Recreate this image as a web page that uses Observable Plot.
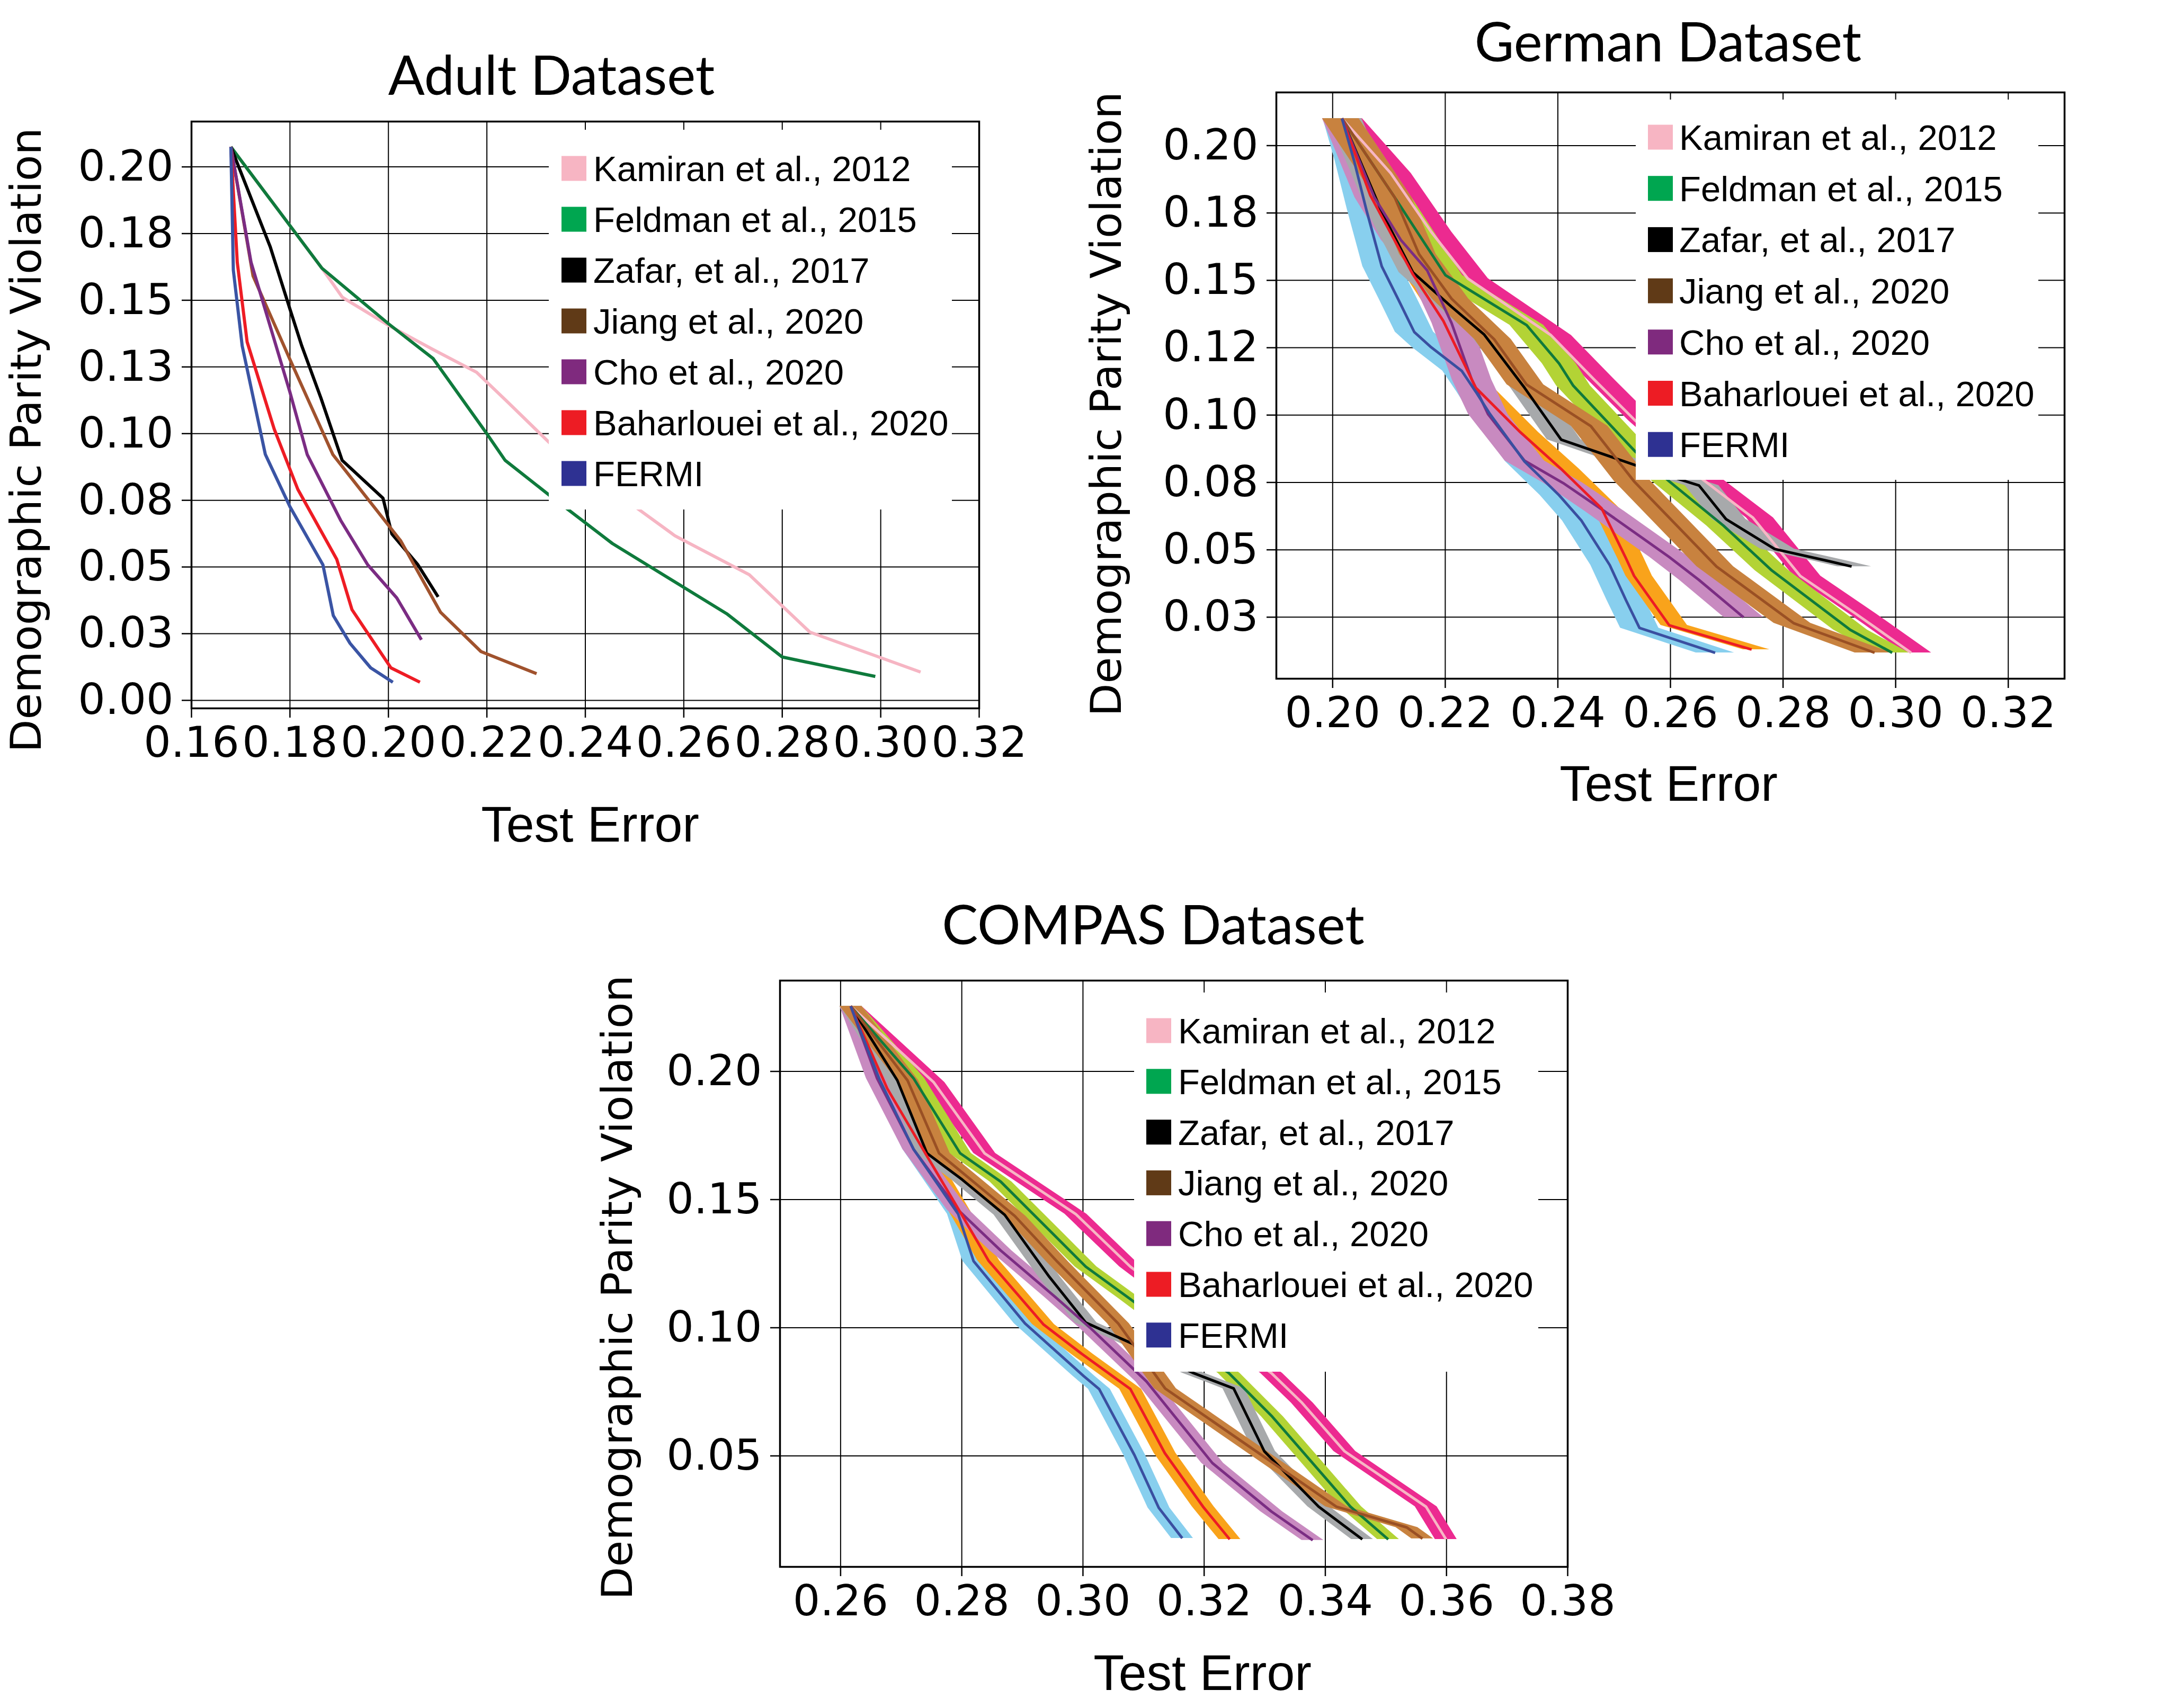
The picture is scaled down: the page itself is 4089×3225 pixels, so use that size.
<!DOCTYPE html>
<html>
<head>
<meta charset="utf-8">
<script src="https://cdn.jsdelivr.net/npm/d3@7"></script>
<script src="https://cdn.jsdelivr.net/npm/@observablehq/plot@0.6"></script>
<style>
  html, body { margin: 0; padding: 0; background: #fff; }
  #fig { position: relative; width: 4089px; height: 3225px; overflow: hidden; background: #fff; }
  .panel { position: absolute; }
  #overlay { position: absolute; left: 0; top: 0; pointer-events: none; }
</style>
</head>
<body>
<div id="fig"></div>
<script>
// ---------------- names / colours ----------------
const methods = ["Kamiran et al., 2012", "Feldman et al., 2015", "Zafar, et al., 2017", "Jiang et al., 2020", "Cho et al., 2020", "Baharlouei et al., 2020", "FERMI"];
const swatchColors = ["#f7b5c3", "#00a650", "#000000", "#603a17", "#7f2a7e", "#ed1c24", "#2e3192"];
const adultLineColors = ["#f6b5c3", "#0f7a3c", "#000000", "#a0522d", "#7b2c83", "#ee1c24", "#3a54a4"];
const lineColors = ["#f7b6c4", "#107a3c", "#000000", "#9a5024", "#7b2d83", "#ed1c24", "#3a4fa0"];
const bandColors = ["#ec2a90", "#b3d335", "#a7a9ab", "#c8823f", "#c88ac0", "#f9a31b", "#88cfee"];

// ---------------- Adult dataset ----------------
const adultXTicks = [0.16, 0.18, 0.20, 0.22, 0.24, 0.26, 0.28, 0.30, 0.32];
const adultXLabels = ["0.16", "0.18", "0.20", "0.22", "0.24", "0.26", "0.28", "0.30", "0.32"];
const adultYTicks = [0, 0.025, 0.05, 0.075, 0.1, 0.125, 0.15, 0.175, 0.2];
const adultYLabels = ["0.00", "0.03", "0.05", "0.08", "0.10", "0.13", "0.15", "0.18", "0.20"];

const adultKamiranX = [0.1680, 0.1865, 0.19065, 0.2000, 0.2088, 0.2179, 0.2238, 0.2327, 0.2507, 0.2582, 0.2733, 0.2856, 0.3081];
const adultKamiranY = [0.2075, 0.1620, 0.1511, 0.1406, 0.1318, 0.1230, 0.1126, 0.0966, 0.0718, 0.0617, 0.0471, 0.0256, 0.0106];
const adultFeldmanX = [0.1680, 0.1865, 0.2000, 0.2091, 0.2199, 0.2237, 0.2327, 0.2455, 0.2687, 0.2800, 0.2989];
const adultFeldmanY = [0.2075, 0.1620, 0.1412, 0.1281, 0.1002, 0.0900, 0.0769, 0.0588, 0.0325, 0.01625, 0.00896];
const adultZafarX = [0.1680, 0.1760, 0.1800, 0.1824, 0.1863, 0.1906, 0.1989, 0.2007, 0.2060, 0.2101];
const adultZafarY = [0.2075, 0.1700, 0.1467, 0.1329, 0.1133, 0.0900, 0.0758, 0.0624, 0.0508, 0.0388];
const adultJiangX = [0.1680, 0.1725, 0.1800, 0.1887, 0.2025, 0.2106, 0.2188, 0.2301];
const adultJiangY = [0.2075, 0.1591, 0.1278, 0.0922, 0.0598, 0.0330, 0.0183, 0.0100];
const adultChoX = [0.1680, 0.1721, 0.1800, 0.1835, 0.1903, 0.1958, 0.2017, 0.2067];
const adultChoY = [0.2075, 0.1642, 0.1155, 0.0922, 0.0675, 0.0508, 0.0384, 0.0227];
const adultBaharloueiX = [0.1680, 0.1693, 0.1713, 0.1768, 0.1816, 0.1895, 0.1926, 0.2005, 0.2064];
const adultBaharloueiY = [0.2075, 0.1642, 0.1344, 0.1017, 0.0791, 0.0529, 0.0340, 0.0122, 0.0068];
const adultFermiX = [0.1680, 0.1685, 0.1703, 0.1750, 0.1800, 0.1867, 0.1888, 0.1922, 0.1964, 0.2009];
const adultFermiY = [0.2075, 0.1613, 0.1329, 0.0922, 0.0726, 0.0508, 0.0318, 0.0214, 0.0122, 0.0068];

// ---------------- German dataset ----------------
const germanXTicks = [0.20, 0.22, 0.24, 0.26, 0.28, 0.30, 0.32];
const germanXLabels = ["0.20", "0.22", "0.24", "0.26", "0.28", "0.30", "0.32"];
const germanYTicks = [0.025, 0.05, 0.075, 0.1, 0.125, 0.15, 0.175, 0.2];
const germanYLabels = ["0.03", "0.05", "0.08", "0.10", "0.12", "0.15", "0.18", "0.20"];

const germanKamiranX = [0.20166, 0.21031, 0.21751, 0.22400, 0.23877, 0.24634, 0.25378, 0.26554, 0.27466, 0.28306, 0.2929, 0.30274];
const germanKamiranY = [0.21007, 0.18978, 0.16798, 0.15069, 0.12965, 0.1134, 0.0979, 0.0764, 0.0619, 0.0403, 0.0263, 0.0118];
const germanFeldmanX = [0.20166, 0.21103, 0.22004, 0.23445, 0.24022, 0.24274, 0.25378, 0.25978, 0.26940, 0.27802, 0.29194, 0.29938];
const germanFeldmanY = [0.21007, 0.18076, 0.15189, 0.13340, 0.11912, 0.1109, 0.0864, 0.0754, 0.05899, 0.0423, 0.0203, 0.0118];
const germanZafarX = [0.20166, 0.20274, 0.20886, 0.21427, 0.22112, 0.22688, 0.23409, 0.24058, 0.25378, 0.26122, 0.26506, 0.26986, 0.2785, 0.2881, 0.29218];
const germanZafarY = [0.21007, 0.20481, 0.17475, 0.15295, 0.14017, 0.12995, 0.11010, 0.0909, 0.0814, 0.0764, 0.0739, 0.0614, 0.0503, 0.0458, 0.0438];
const germanJiangX = [0.20166, 0.21103, 0.21535, 0.22112, 0.22868, 0.23445, 0.24586, 0.25354, 0.25978, 0.26818, 0.28186, 0.29626];
const germanJiangY = [0.21007, 0.18076, 0.15971, 0.14318, 0.12814, 0.11131, 0.0959, 0.0754, 0.0619, 0.0438, 0.0228, 0.0118];
const germanChoX = [0.20166, 0.20742, 0.21211, 0.21679, 0.22112, 0.22472, 0.22760, 0.23409, 0.24094, 0.24826, 0.25978, 0.26506, 0.27298];
const germanChoY = [0.21007, 0.18076, 0.16497, 0.15370, 0.13415, 0.11311, 0.10033, 0.08304, 0.07478, 0.06436, 0.04734, 0.03882, 0.02496];
const germanBaharloueiX = [0.20166, 0.20670, 0.21427, 0.21967, 0.22544, 0.23337, 0.24057, 0.24778, 0.2521, 0.25354, 0.25978, 0.27442];
const germanBaharloueiY = [0.21007, 0.18151, 0.15219, 0.13491, 0.11010, 0.09357, 0.08004, 0.06536, 0.04683, 0.04033, 0.0220, 0.0130];
const germanFermiX = [0.20166, 0.20382, 0.20598, 0.20872, 0.21160, 0.21449, 0.21751, 0.22292, 0.22544, 0.22796, 0.23409, 0.24022, 0.24418, 0.24922, 0.2521, 0.2545, 0.26794];
const germanFermiY = [0.21007, 0.19429, 0.17625, 0.15520, 0.14318, 0.13085, 0.12514, 0.11642, 0.10860, 0.10033, 0.08274, 0.07027, 0.06086, 0.04433, 0.0313, 0.0210, 0.01178];
// band half-widths (left, right) in test-error units
const germanBandLo = [0.0012, 0.0030, 0.0025, 0.0035, 0.0035, 0.0015, 0.0034];
const germanBandHi = [0.0036, 0.0030, 0.0035, 0.0030, 0.0035, 0.0032, 0.0034];

// ---------------- COMPAS dataset ----------------
const compasXTicks = [0.26, 0.28, 0.30, 0.32, 0.34, 0.36, 0.38];
const compasXLabels = ["0.26", "0.28", "0.30", "0.32", "0.34", "0.36", "0.38"];
const compasYTicks = [0.05, 0.1, 0.15, 0.2];
const compasYLabels = ["0.05", "0.10", "0.15", "0.20"];

const compasKamiranX = [0.26167, 0.27538, 0.28375, 0.29880, 0.30783, 0.3311, 0.33616, 0.34318, 0.35661, 0.35992];
const compasKamiranY = [0.22545, 0.19573, 0.16807, 0.14436, 0.12380, 0.0823, 0.0707, 0.0518, 0.0302, 0.01745];
const compasFeldmanX = [0.26167, 0.27204, 0.27973, 0.28642, 0.29512, 0.30047, 0.30783, 0.32409, 0.33124, 0.34415, 0.35038];
const compasFeldmanY = [0.22545, 0.19731, 0.16807, 0.15700, 0.13645, 0.12380, 0.11116, 0.0823, 0.06532, 0.0302, 0.01745];
const compasZafarX = [0.26167, 0.26936, 0.27425, 0.28007, 0.28709, 0.29445, 0.30047, 0.30816, 0.31825, 0.32487, 0.32993, 0.33889, 0.3461];
const compasZafarY = [0.22545, 0.19652, 0.16807, 0.15779, 0.14404, 0.11985, 0.10199, 0.09377, 0.0823, 0.0763, 0.0518, 0.0302, 0.01745];
const compasJiangX = [0.26167, 0.27104, 0.27625, 0.28876, 0.29579, 0.30582, 0.31357, 0.34181, 0.35344, 0.35603];
const compasJiangY = [0.22545, 0.19652, 0.16807, 0.14357, 0.12570, 0.10167, 0.0763, 0.0302, 0.0221, 0.0177];
const compasChoX = [0.26167, 0.26602, 0.27204, 0.27940, 0.28642, 0.29545, 0.30114, 0.31050, 0.32136, 0.3311, 0.33792];
const compasChoY = [0.22545, 0.19731, 0.16965, 0.14594, 0.13013, 0.11195, 0.10009, 0.0790, 0.0472, 0.0283, 0.0171];
const compasBaharloueiX = [0.26167, 0.26769, 0.27438, 0.27973, 0.28441, 0.29345, 0.29980, 0.30783, 0.31351, 0.31981, 0.32422];
const compasBaharloueiY = [0.22545, 0.19336, 0.16649, 0.14515, 0.12618, 0.10136, 0.08982, 0.07607, 0.05109, 0.0302, 0.01745];
const compasFermiX = [0.26167, 0.26649, 0.27204, 0.27940, 0.28194, 0.29044, 0.30013, 0.30268, 0.30850, 0.31251, 0.31639];
const compasFermiY = [0.22545, 0.19652, 0.16965, 0.14436, 0.12602, 0.10167, 0.08112, 0.07606, 0.05030, 0.02975, 0.01789];
const compasBandLo = [0.0018, 0.0018, 0.0018, 0.0018, 0.0018, 0.0018, 0.0018];
const compasBandHi = [0.0018, 0.0018, 0.0018, 0.0018, 0.0018, 0.0018, 0.0018];

// ---------------- helpers ----------------
const toRows = (xs, ys) => xs.map((x, i) => ({x, y: ys[i]}));
const bandOrder = [6, 5, 4, 0, 1, 2, 3];
const lineOrder = [0, 1, 2, 3, 4, 5, 6];

function panel(cfg) {
  const xMap = new Map(cfg.xTicks.map((t, i) => [t, cfg.xLabels[i]]));
  const yMap = new Map(cfg.yTicks.map((t, i) => [t, cfg.yLabels[i]]));
  const marks = [
    Plot.ruleX(cfg.xTicks.filter(t => t >= cfg.xDomain[0] && t <= cfg.xDomain[1]), {stroke: "#000", strokeWidth: 2}),
    Plot.ruleY(cfg.yTicks, {stroke: "#000", strokeWidth: 2})
  ];
  if (cfg.bandLo) {
    for (const i of bandOrder) {
      const lo = cfg.bandLo[i], hi = cfg.bandHi[i];
      marks.push(Plot.areaX(cfg.series[i], {y: "y", x1: d => d.x - lo, x2: d => d.x + hi, fill: cfg.bandColors[i], curve: "linear"}));
    }
  }
  for (const i of lineOrder) {
    marks.push(Plot.line(cfg.series[i], {x: "x", y: "y", stroke: cfg.lineColors[i], strokeWidth: cfg.lineWidth, strokeLinejoin: "round", strokeLinecap: "butt", curve: "linear"}));
  }
  marks.push(
    Plot.axisX({ticks: cfg.xTicks, tickFormat: d => xMap.get(d), tickSize: 18, tickPadding: 16, fontSize: 81, strokeWidth: 2.5, label: null, anchor: "bottom"}),
    Plot.axisY({ticks: cfg.yTicks, tickFormat: d => yMap.get(d), tickSize: 18, tickPadding: 16, fontSize: 81, strokeWidth: 2.5, label: null, anchor: "left"}),
    Plot.frame({stroke: "#000", strokeWidth: 3.5})
  );
  const svg = Plot.plot({
    width: cfg.width, height: cfg.height,
    marginLeft: cfg.margin[0], marginTop: cfg.margin[1], marginRight: cfg.margin[2], marginBottom: cfg.margin[3],
    x: {domain: cfg.xDomain}, y: {domain: cfg.yDomain},
    style: {fontFamily: "'DejaVu Sans'", fontSize: "81px", color: "#000", background: "transparent", overflow: "visible"},
    marks
  });
  svg.classList.add("panel");
  svg.style.left = cfg.left + "px";
  svg.style.top = cfg.top + "px";
  return svg;
}

const fig = document.getElementById("fig");

fig.appendChild(panel({
  left: 0, top: 0, width: 2000, height: 1700, margin: [361, 229, 152, 363],
  xDomain: [0.16, 0.32], yDomain: [-0.003, 0.217], lineWidth: 6,
  xTicks: adultXTicks, xLabels: adultXLabels, yTicks: adultYTicks, yLabels: adultYLabels,
  lineColors: adultLineColors,
  series: [toRows(adultKamiranX, adultKamiranY), toRows(adultFeldmanX, adultFeldmanY), toRows(adultZafarX, adultZafarY),
           toRows(adultJiangX, adultJiangY), toRows(adultChoX, adultChoY), toRows(adultBaharloueiX, adultBaharloueiY), toRows(adultFermiX, adultFermiY)]
}));

fig.appendChild(panel({
  left: 2050, top: 0, width: 2039, height: 1700, margin: [359, 174, 192, 419],
  xDomain: [0.19, 0.33], yDomain: [0.00217, 0.21974], lineWidth: 5,
  xTicks: germanXTicks, xLabels: germanXLabels, yTicks: germanYTicks, yLabels: germanYLabels,
  lineColors: lineColors, bandColors: bandColors, bandLo: germanBandLo, bandHi: germanBandHi,
  series: [toRows(germanKamiranX, germanKamiranY), toRows(germanFeldmanX, germanFeldmanY), toRows(germanZafarX, germanZafarY),
           toRows(germanJiangX, germanJiangY), toRows(germanChoX, germanChoY), toRows(germanBaharloueiX, germanBaharloueiY), toRows(germanFermiX, germanFermiY)]
}));

fig.appendChild(panel({
  left: 1100, top: 1700, width: 2000, height: 1525, margin: [372, 151, 141, 267],
  xDomain: [0.25, 0.38], yDomain: [0.00671, 0.23544], lineWidth: 5,
  xTicks: compasXTicks, xLabels: compasXLabels, yTicks: compasYTicks, yLabels: compasYLabels,
  lineColors: lineColors, bandColors: bandColors, bandLo: compasBandLo, bandHi: compasBandHi,
  series: [toRows(compasKamiranX, compasKamiranY), toRows(compasFeldmanX, compasFeldmanY), toRows(compasZafarX, compasZafarY),
           toRows(compasJiangX, compasJiangY), toRows(compasChoX, compasChoY), toRows(compasBaharloueiX, compasBaharloueiY), toRows(compasFermiX, compasFermiY)]
}));

// ---------------- overlay: titles, axis labels, legends ----------------
const overlay = d3.select(fig).append("svg").attr("id", "overlay")
  .attr("width", 4089).attr("height", 3225);

const titles = [
  {text: "Adult Dataset", x: 1041, y: 179},
  {text: "German Dataset", x: 3149, y: 116},
  {text: "COMPAS Dataset", x: 2177, y: 1783}
];
overlay.selectAll("text.title").data(titles).join("text").attr("class", "title")
  .attr("x", d => d.x).attr("y", d => d.y).attr("text-anchor", "middle")
  .style("font-family", "Lato").style("font-size", "102px").attr("fill", "#000").text(d => d.text);

const xLabelPos = [{x: 1114, y: 1589}, {x: 3150, y: 1512}, {x: 2270, y: 3191}];
overlay.selectAll("text.xlab").data(xLabelPos).join("text").attr("class", "xlab")
  .attr("x", d => d.x).attr("y", d => d.y).attr("text-anchor", "middle")
  .style("font-family", "'Liberation Sans'").style("font-size", "95px").attr("fill", "#000").text("Test Error");

const yLabelPos = [{x: 77, y: 831}, {x: 2116, y: 763}, {x: 1193, y: 2431}];
overlay.selectAll("text.ylab").data(yLabelPos).join("text").attr("class", "ylab")
  .attr("transform", d => `translate(${d.x},${d.y}) rotate(-90)`).attr("text-anchor", "middle")
  .style("font-family", "'DejaVu Sans'").style("font-size", "81px").attr("fill", "#000").text("Demographic Parity Violation");

const legends = [
  {x0: 1036, y0: 245, w: 761, h: 717, sx: 1060, tx: 1120, row0: 318, step: 96},
  {x0: 3088, y0: 188, w: 760, h: 718, sx: 3111, tx: 3170, row0: 259, step: 96.7},
  {x0: 2141, y0: 1874, w: 763, h: 716, sx: 2164, tx: 2224, row0: 1946, step: 95.8}
];
for (const L of legends) {
  const g = overlay.append("g");
  g.append("rect").attr("x", L.x0).attr("y", L.y0).attr("width", L.w).attr("height", L.h).attr("fill", "#fff");
  methods.forEach((m, i) => {
    const cy = L.row0 + i * L.step;
    g.append("rect").attr("x", L.sx).attr("y", cy - 23.5).attr("width", 47).attr("height", 47).attr("fill", swatchColors[i]);
    g.append("text").attr("x", L.tx).attr("y", cy + 24)
      .style("font-family", "'Liberation Sans'").style("font-size", "67px").attr("fill", "#000").text(m);
  });
}
</script>
</body>
</html>
